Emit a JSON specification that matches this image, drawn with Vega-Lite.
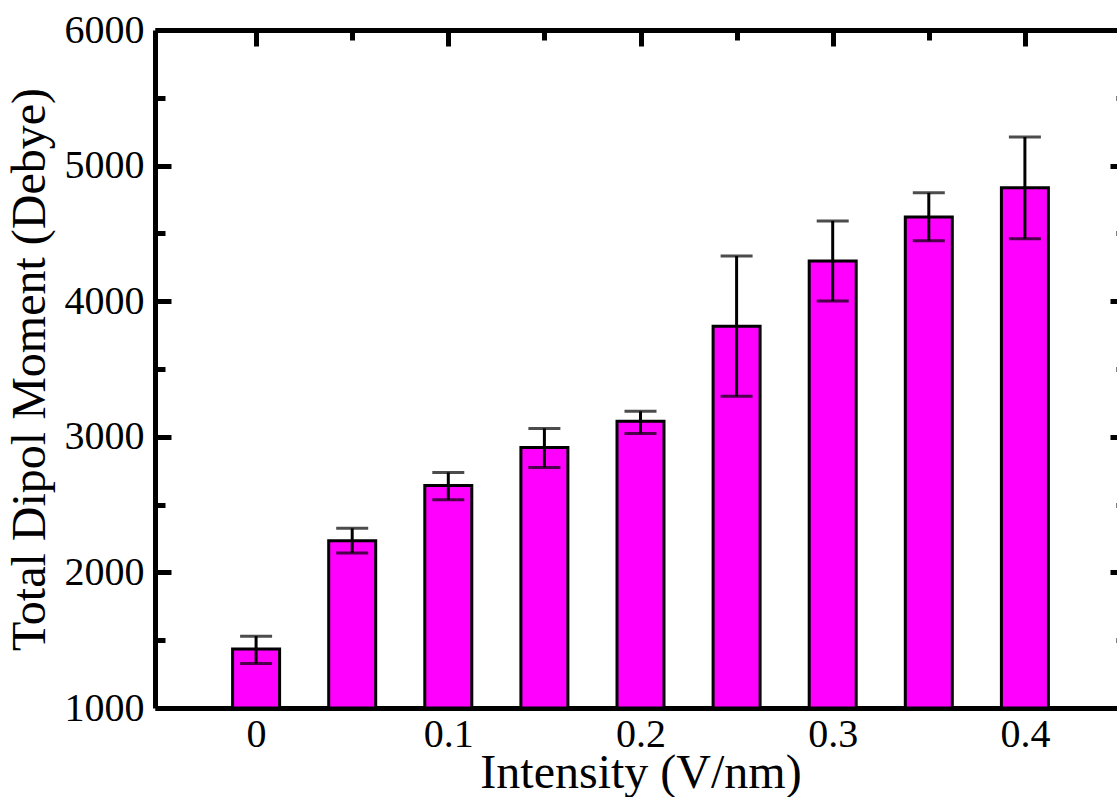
{
  "$schema": "https://vega.github.io/schema/vega-lite/v6.json",
  "autosize": {"type": "none"},
  "padding": {"left": 155, "top": 30, "right": -9, "bottom": 89},
  "width": 971,
  "height": 678,
  "background": "white",
  "config": {
    "view": {"stroke": null},
    "font": "Liberation Serif",
    "axis": {
      "labelFont": "Liberation Serif",
      "titleFont": "Liberation Serif",
      "labelColor": "black",
      "titleColor": "black",
      "tickColor": "black",
      "domainColor": "black",
      "grid": false,
      "labelFontSize": 40,
      "titleFontSize": 48,
      "titleFontWeight": "normal",
      "domainWidth": 5,
      "tickWidth": 5
    }
  },
  "data": {
    "values": [
      {"x": 0, "mean": 1436, "lo": 1328, "hi": 1530},
      {"x": 0.05, "mean": 2234, "lo": 2143, "hi": 2325},
      {"x": 0.1, "mean": 2641, "lo": 2535, "hi": 2737},
      {"x": 0.15, "mean": 2922, "lo": 2774, "hi": 3062},
      {"x": 0.2, "mean": 3114, "lo": 3025, "hi": 3188},
      {"x": 0.25, "mean": 3816, "lo": 3299, "hi": 4333},
      {"x": 0.3, "mean": 4296, "lo": 4001, "hi": 4592},
      {"x": 0.35, "mean": 4621, "lo": 4446, "hi": 4799},
      {"x": 0.4, "mean": 4836, "lo": 4461, "hi": 5211}
    ]
  },
  "resolve": {"axis": {"x": "independent", "y": "independent"}},
  "layer": [
    {
      "mark": {"type": "bar", "size": 47, "fill": "#ff00ff", "stroke": "black", "strokeWidth": 3},
      "encoding": {
        "x": {"field": "x", "type": "quantitative",
          "scale": {"domain": [-0.05, 0.45], "nice": false, "zero": false},
          "axis": {"orient": "bottom", "title": "Intensity (V/nm)", "values": [0, 0.1, 0.2, 0.3, 0.4],
            "tickSize": -16, "labelPadding": 22, "titlePadding": -5, "format": "~g", "labelFlush": false,
            "labelFont": "Liberation Serif", "labelFontSize": 40}},
        "y": {"field": "mean", "type": "quantitative",
          "scale": {"domain": [1000, 6000], "nice": false, "zero": false},
          "axis": {"orient": "left", "title": "Total Dipol Moment (Debye)", "values": [1000, 2000, 3000, 4000, 5000, 6000],
            "tickSize": -16, "labelPadding": 27, "titlePadding": 10, "format": "d", "labelFlush": false,
            "labelFont": "Liberation Serif", "labelFontSize": 40}},
        "y2": {"datum": 1000}
      }
    },
    {
      "mark": {"type": "rule", "color": "black", "strokeWidth": 3},
      "encoding": {
        "x": {"field": "x", "type": "quantitative",
          "axis": {"orient": "bottom", "title": null, "values": [0.05, 0.15, 0.25, 0.35], "tickSize": -10, "labels": false, "domain": false}},
        "y": {"field": "lo", "type": "quantitative",
          "axis": {"orient": "left", "title": null, "values": [1500, 2500, 3500, 4500, 5500], "tickSize": -10, "labels": false, "domain": false}},
        "y2": {"field": "hi"}
      }
    },
    {
      "mark": {"type": "tick", "orient": "horizontal", "color": "black", "size": 32, "thickness": 3},
      "encoding": {
        "x": {"field": "x", "type": "quantitative",
          "axis": {"orient": "top", "title": null, "values": [0, 0.1, 0.2, 0.3, 0.4], "tickSize": -16, "labels": false}},
        "y": {"field": "hi", "type": "quantitative",
          "axis": {"orient": "right", "title": null, "values": [1000, 2000, 3000, 4000, 5000, 6000], "tickSize": -16, "labels": false}}
      }
    },
    {
      "mark": {"type": "tick", "orient": "horizontal", "color": "black", "size": 32, "thickness": 3},
      "encoding": {
        "x": {"field": "x", "type": "quantitative",
          "axis": {"orient": "top", "title": null, "values": [0.05, 0.15, 0.25, 0.35], "tickSize": -10, "labels": false, "domain": false}},
        "y": {"field": "lo", "type": "quantitative",
          "axis": {"orient": "right", "title": null, "values": [1500, 2500, 3500, 4500, 5500], "tickSize": -10, "labels": false, "domain": false}}
      }
    }
  ]
}
